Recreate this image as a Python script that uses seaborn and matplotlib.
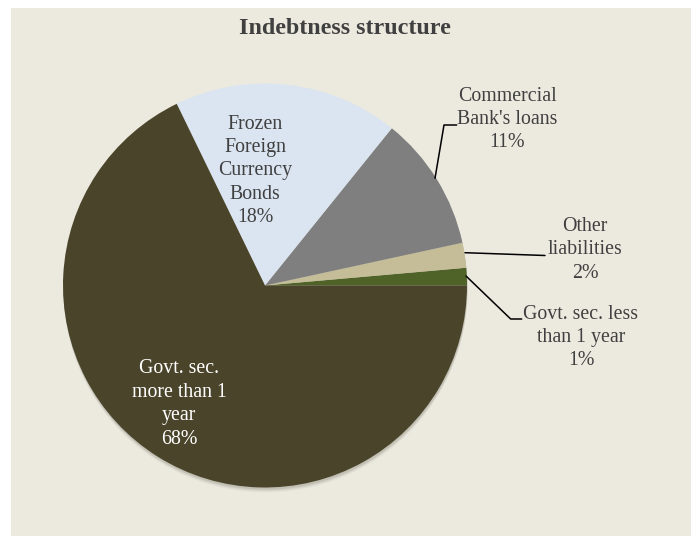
import matplotlib
matplotlib.use("Agg")
import matplotlib.pyplot as plt
from matplotlib.patches import Rectangle, Circle
import seaborn as sns

# ---- data ----
categories = ["Govt. sec. less\nthan 1 year", "Other\nliabilities", "Commercial\nBank's loans",
              "Frozen\nForeign\nCurrency\nBonds", "Govt. sec.\nmore than 1\nyear"]
shares = [1.4, 2.0, 10.8, 18.0, 67.8]
colors = ["#4F6228", "#C4BD97", "#7F7F7F", "#DBE5F1", "#4A452A"]
title = "Indebtness structure"

sns.set_theme(style="white")
plt.rcParams['font.family'] = ['Liberation Serif', 'DejaVu Serif']

W, H = 691, 536
fig = plt.figure(figsize=(W / 100, H / 100), dpi=100, facecolor="white")
ax = fig.add_axes([0, 0, 1, 1])
ax.set_xlim(0, W)
ax.set_ylim(0, H)
ax.axis("off")

def Y(ypx):
    return H - ypx

# panel background
ax.add_patch(Rectangle((11, 0), W - 11, H - 8, facecolor="#ECE9DF", edgecolor="none", zorder=0))

cx, cy, r = 265, Y(285.5), 202
# soft shadow
for off, a in [(5, 0.05), (4, 0.07), (3, 0.10), (2, 0.14)]:
    ax.add_patch(Circle((cx + 0.5, cy - off), r, facecolor="#6d6a5f", alpha=a, edgecolor="none", zorder=1))

pal = sns.color_palette(colors)
wedges, _ = ax.pie(shares, colors=pal, startangle=0, counterclock=True, center=(cx, cy),
                   radius=r, wedgeprops=dict(linewidth=0, zorder=2), frame=True)
ax.set_xlim(0, W)
ax.set_ylim(0, H)
ax.set_aspect("auto")
ax.axis("off")

ax.text(345, Y(28), title, ha="center", va="center", fontsize=17.3, fontweight="bold", color="#404040")

pct = [f"{v:.0f}%" for v in shares]
label_pos = [(581, 337.5), (585, 250), (507.5, 119.5), (255, 171), (179, 404)]
text_colors = ["#404040", "#404040", "#404040", "#404040", "#FFFFFF"]
for cat, p, (lx, ly), tc in zip(categories, pct, label_pos, text_colors):
    ax.text(lx, Y(ly), cat + "\n" + p, ha="center", va="center", fontsize=14.3,
            color=tc, linespacing=1.32, zorder=5)

# leader lines
lc = dict(color="black", lw=1.1, zorder=4)
ax.plot([435, 444, 456.7], [Y(178.3), Y(125), Y(125)], **lc)
ax.plot([465, 545], [Y(252.7), Y(255.5)], **lc)
ax.plot([466, 510.7, 521.7], [Y(276), Y(319), Y(319)], **lc)

fig.savefig("out.png", dpi=100, facecolor="white")
